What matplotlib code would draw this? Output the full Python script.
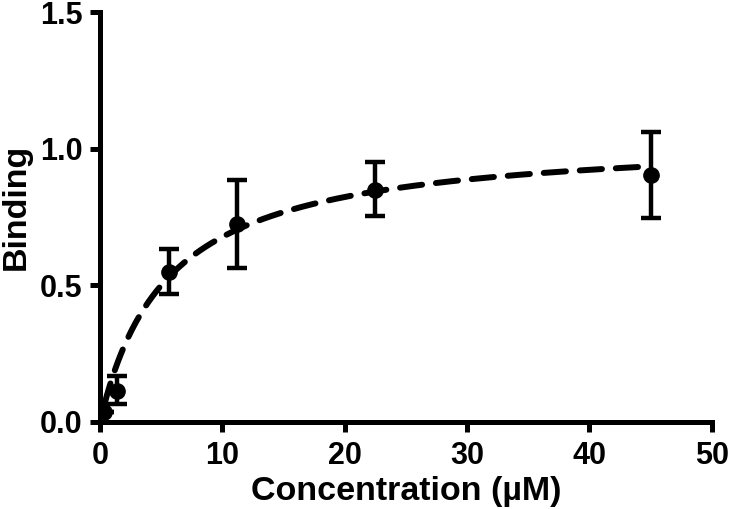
import numpy as np
import matplotlib
matplotlib.use("Agg")
import matplotlib.pyplot as plt

plt.rcParams['font.family'] = ['Liberation Sans', 'DejaVu Sans']
plt.rcParams['font.weight'] = 'bold'
plt.rcParams['lines.scale_dashes'] = False

# data
conc = [0.35, 1.4, 5.6, 11.2, 22.5, 45]
binding = [0.035, 0.115, 0.55, 0.725, 0.85, 0.905]
err_low = [0.0, 0.05, 0.08, 0.16, 0.097, 0.16]
err_high = [0.0, 0.055, 0.083, 0.16, 0.1, 0.157]

# one-site binding fit parameters
bmax = 1.05
kd = 5.5

fig = plt.figure(figsize=(7.30, 5.09), dpi=100)
ax = fig.add_axes([0.137, 0.171, 0.838, 0.805])

xfit = np.linspace(conc[0], conc[-1], 400)
yfit = bmax * xfit / (kd + xfit)
ax.plot(xfit, yfit, color='black', lw=4.3, linestyle=(0, (16, 10)),
        dash_capstyle='round', zorder=2)

ax.errorbar(conc, binding, yerr=[err_low, err_high], fmt='o', color='black',
            ms=11, elinewidth=3.2, capsize=7.5, capthick=3.2, zorder=3)

ax.set_xlim(0, 50)
ax.set_ylim(0, 1.5)
ax.set_xticks([0, 10, 20, 30, 40, 50])
ax.set_yticks([0.0, 0.5, 1.0, 1.5])
ax.set_yticklabels(['0.0', '0.5', '1.0', '1.5'])

for s in ['top', 'right']:
    ax.spines[s].set_visible(False)
for s in ['left', 'bottom']:
    ax.spines[s].set_linewidth(3.6)
    ax.spines[s].set_capstyle('projecting')

ax.tick_params(width=3.6, length=7, labelsize=22)
ax.tick_params(axis='x', pad=6.5)
ax.tick_params(axis='y', pad=5.5)
for lbl in ax.get_xticklabels() + ax.get_yticklabels():
    lbl.set_fontweight('bold')

ax.set_xlabel('Concentration (µM)', fontsize=24.5, fontweight='bold', labelpad=4)
ax.set_ylabel('Binding', fontsize=24.5, fontweight='bold', labelpad=6)
ax.yaxis.label.set_y(0.526)

fig.savefig('out.png', dpi=100)
